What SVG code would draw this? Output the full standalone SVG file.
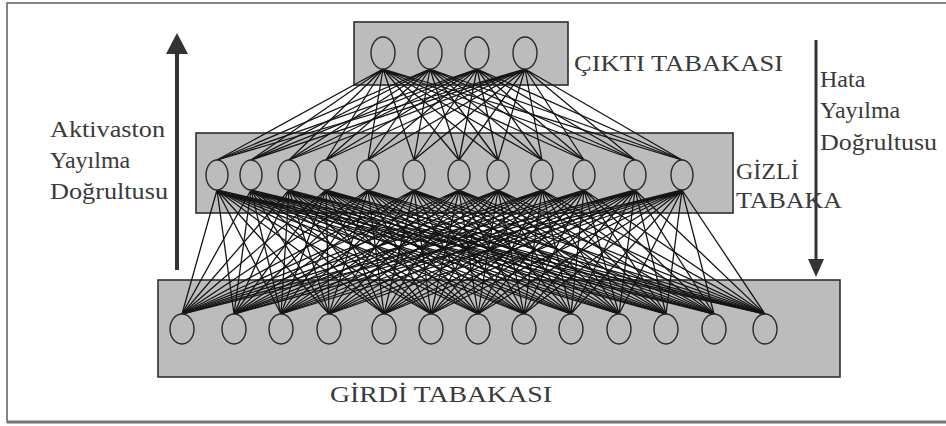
<svg xmlns="http://www.w3.org/2000/svg" width="946" height="426" viewBox="0 0 946 426">
<style>
.layer{fill:#bcbcbc;stroke:#2e2e2e;stroke-width:1.6}
.n{fill:#bcbcbc;stroke:#2a2a2a;stroke-width:1.4}
.c{fill:none;stroke:#151515;stroke-width:1.3;stroke-linecap:round}
.t{font-family:"Liberation Serif","Times New Roman",serif;fill:#3a3a3a;font-size:24px}
</style>
<rect x="0" y="0" width="946" height="426" fill="#fff"/>
<rect x="7" y="3" width="945" height="419" fill="none" stroke="#666" stroke-width="1.6"/>
<line x1="7" y1="422" x2="946" y2="422" stroke="#777" stroke-width="3"/>

<g id="layer-output"><rect class="layer" x="354" y="22" width="214" height="63"/></g>
<g id="layer-hidden"><rect class="layer" x="196" y="133" width="537" height="80"/></g>
<g id="layer-input"><rect class="layer" x="158" y="280" width="682" height="97"/></g>

<g id="connectors">
<path class="c" d="M217 190L182 314M217 190L234 314M217 190L281 314M217 190L329 314M217 190L384 314M217 190L431 314M217 190L478 314M217 190L524 314M217 190L571 314M217 190L619 314M217 190L666 314M217 190L714 314M217 190L765 314"/>
<path class="c" d="M251 190L182 314M251 190L234 314M251 190L281 314M251 190L329 314M251 190L384 314M251 190L431 314M251 190L478 314M251 190L524 314M251 190L571 314M251 190L619 314M251 190L666 314M251 190L714 314M251 190L765 314"/>
<path class="c" d="M289 190L182 314M289 190L234 314M289 190L281 314M289 190L329 314M289 190L384 314M289 190L431 314M289 190L478 314M289 190L524 314M289 190L571 314M289 190L619 314M289 190L666 314M289 190L714 314M289 190L765 314"/>
<path class="c" d="M326 190L182 314M326 190L234 314M326 190L281 314M326 190L329 314M326 190L384 314M326 190L431 314M326 190L478 314M326 190L524 314M326 190L571 314M326 190L619 314M326 190L666 314M326 190L714 314M326 190L765 314"/>
<path class="c" d="M368 190L182 314M368 190L234 314M368 190L281 314M368 190L329 314M368 190L384 314M368 190L431 314M368 190L478 314M368 190L524 314M368 190L571 314M368 190L619 314M368 190L666 314M368 190L714 314M368 190L765 314"/>
<path class="c" d="M414 190L182 314M414 190L234 314M414 190L281 314M414 190L329 314M414 190L384 314M414 190L431 314M414 190L478 314M414 190L524 314M414 190L571 314M414 190L619 314M414 190L666 314M414 190L714 314M414 190L765 314"/>
<path class="c" d="M459 190L182 314M459 190L234 314M459 190L281 314M459 190L329 314M459 190L384 314M459 190L431 314M459 190L478 314M459 190L524 314M459 190L571 314M459 190L619 314M459 190L666 314M459 190L714 314M459 190L765 314"/>
<path class="c" d="M498 190L182 314M498 190L234 314M498 190L281 314M498 190L329 314M498 190L384 314M498 190L431 314M498 190L478 314M498 190L524 314M498 190L571 314M498 190L619 314M498 190L666 314M498 190L714 314M498 190L765 314"/>
<path class="c" d="M542 190L182 314M542 190L234 314M542 190L281 314M542 190L329 314M542 190L384 314M542 190L431 314M542 190L478 314M542 190L524 314M542 190L571 314M542 190L619 314M542 190L666 314M542 190L714 314M542 190L765 314"/>
<path class="c" d="M584 190L182 314M584 190L234 314M584 190L281 314M584 190L329 314M584 190L384 314M584 190L431 314M584 190L478 314M584 190L524 314M584 190L571 314M584 190L619 314M584 190L666 314M584 190L714 314M584 190L765 314"/>
<path class="c" d="M635 190L182 314M635 190L234 314M635 190L281 314M635 190L329 314M635 190L384 314M635 190L431 314M635 190L478 314M635 190L524 314M635 190L571 314M635 190L619 314M635 190L666 314M635 190L714 314M635 190L765 314"/>
<path class="c" d="M682 190L182 314M682 190L234 314M682 190L281 314M682 190L329 314M682 190L384 314M682 190L431 314M682 190L478 314M682 190L524 314M682 190L571 314M682 190L619 314M682 190L666 314M682 190L714 314M682 190L765 314"/>
<path class="c" d="M383 69L217 160M383 69L251 160M383 69L289 160M383 69L326 160M383 69L368 160M383 69L414 160M383 69L459 160M383 69L498 160M383 69L542 160M383 69L584 160M383 69L635 160M383 69L682 160"/>
<path class="c" d="M430 69L217 160M430 69L251 160M430 69L289 160M430 69L326 160M430 69L368 160M430 69L414 160M430 69L459 160M430 69L498 160M430 69L542 160M430 69L584 160M430 69L635 160M430 69L682 160"/>
<path class="c" d="M477 69L217 160M477 69L251 160M477 69L289 160M477 69L326 160M477 69L368 160M477 69L414 160M477 69L459 160M477 69L498 160M477 69L542 160M477 69L584 160M477 69L635 160M477 69L682 160"/>
<path class="c" d="M525 69L217 160M525 69L251 160M525 69L289 160M525 69L326 160M525 69L368 160M525 69L414 160M525 69L459 160M525 69L498 160M525 69L542 160M525 69L584 160M525 69L635 160M525 69L682 160"/>
</g>

<g id="out1"><ellipse class="n" cx="383" cy="53" rx="12" ry="16"/></g>
<g id="out2"><ellipse class="n" cx="430" cy="53" rx="12" ry="16"/></g>
<g id="out3"><ellipse class="n" cx="477" cy="53" rx="12" ry="16"/></g>
<g id="out4"><ellipse class="n" cx="525" cy="53" rx="12" ry="16"/></g>

<g id="hid1"><ellipse class="n" cx="217" cy="175" rx="11" ry="15"/></g>
<g id="hid2"><ellipse class="n" cx="251" cy="175" rx="11" ry="15"/></g>
<g id="hid3"><ellipse class="n" cx="289" cy="175" rx="11" ry="15"/></g>
<g id="hid4"><ellipse class="n" cx="326" cy="175" rx="11" ry="15"/></g>
<g id="hid5"><ellipse class="n" cx="368" cy="175" rx="11" ry="15"/></g>
<g id="hid6"><ellipse class="n" cx="414" cy="175" rx="11" ry="15"/></g>
<g id="hid7"><ellipse class="n" cx="459" cy="175" rx="11" ry="15"/></g>
<g id="hid8"><ellipse class="n" cx="498" cy="175" rx="11" ry="15"/></g>
<g id="hid9"><ellipse class="n" cx="542" cy="175" rx="11" ry="15"/></g>
<g id="hid10"><ellipse class="n" cx="584" cy="175" rx="11" ry="15"/></g>
<g id="hid11"><ellipse class="n" cx="635" cy="175" rx="11" ry="15"/></g>
<g id="hid12"><ellipse class="n" cx="682" cy="175" rx="11" ry="15"/></g>

<g id="in1"><ellipse class="n" cx="182" cy="329" rx="12" ry="15"/></g>
<g id="in2"><ellipse class="n" cx="234" cy="329" rx="12" ry="15"/></g>
<g id="in3"><ellipse class="n" cx="281" cy="329" rx="12" ry="15"/></g>
<g id="in4"><ellipse class="n" cx="329" cy="329" rx="12" ry="15"/></g>
<g id="in5"><ellipse class="n" cx="384" cy="329" rx="12" ry="15"/></g>
<g id="in6"><ellipse class="n" cx="431" cy="329" rx="12" ry="15"/></g>
<g id="in7"><ellipse class="n" cx="478" cy="329" rx="12" ry="15"/></g>
<g id="in8"><ellipse class="n" cx="524" cy="329" rx="12" ry="15"/></g>
<g id="in9"><ellipse class="n" cx="571" cy="329" rx="12" ry="15"/></g>
<g id="in10"><ellipse class="n" cx="619" cy="329" rx="12" ry="15"/></g>
<g id="in11"><ellipse class="n" cx="666" cy="329" rx="12" ry="15"/></g>
<g id="in12"><ellipse class="n" cx="714" cy="329" rx="12" ry="15"/></g>
<g id="in13"><ellipse class="n" cx="765" cy="329" rx="12" ry="15"/></g>

<g id="arrow-activation">
<line x1="177" y1="270" x2="177" y2="50" stroke="#333" stroke-width="4"/>
<path d="M166,54 L177,33 L188,54 z" fill="#333"/>
</g>
<g id="arrow-error">
<line x1="816" y1="40" x2="816" y2="262" stroke="#333" stroke-width="3"/>
<path d="M808,259 L816,277 L824,259 z" fill="#333"/>
</g>

<g id="labels">
<text class="t" x="574" y="71" textLength="209" lengthAdjust="spacingAndGlyphs">ÇIKTI TABAKASI</text>
<text class="t" x="736" y="179">GİZLİ</text>
<text class="t" x="736" y="208" textLength="106" lengthAdjust="spacingAndGlyphs">TABAKA</text>
<text class="t" x="330" y="402" textLength="222" lengthAdjust="spacingAndGlyphs">GİRDİ TABAKASI</text>
<text class="t" x="50" y="137" textLength="115" lengthAdjust="spacingAndGlyphs">Aktivaston</text>
<text class="t" x="50" y="168">Yayılma</text>
<text class="t" x="50" y="199" textLength="118" lengthAdjust="spacingAndGlyphs">Doğrultusu</text>
<text class="t" x="820" y="87">Hata</text>
<text class="t" x="820" y="118">Yayılma</text>
<text class="t" x="820" y="150" textLength="117" lengthAdjust="spacingAndGlyphs">Doğrultusu</text>
</g>
</svg>
